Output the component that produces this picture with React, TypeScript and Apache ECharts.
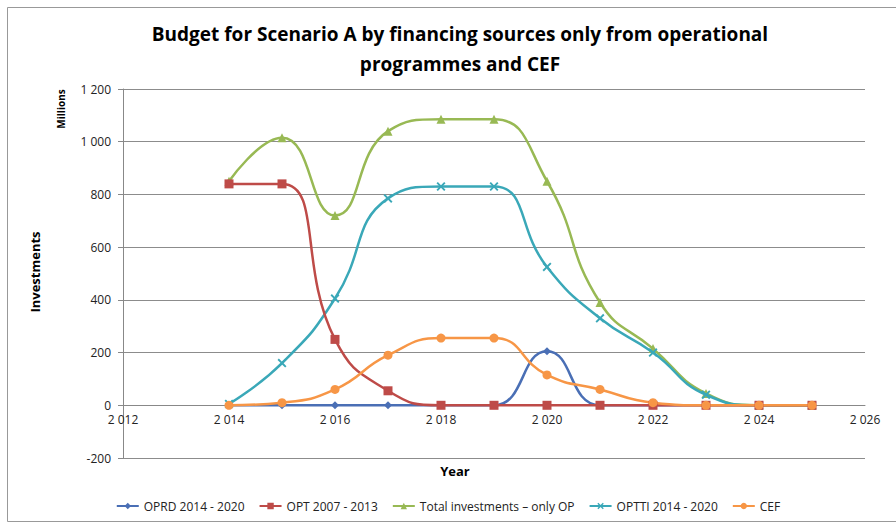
import React, { useEffect, useRef } from "react";
import * as echarts from "echarts";

const years = [2014, 2015, 2016, 2017, 2018, 2019, 2020, 2021, 2022, 2023, 2024, 2025];
const oprd = [0, 0, 0, 0, 0, 0, 205, 0, 0, 0, 0, 0];
const opt = [840, 840, 250, 55, 0, 0, 0, 0, 0, 0, 0, 0];
const total = [850, 1015, 720, 1040, 1085, 1085, 850, 390, 215, 45, 0, 0];
const optti = [5, 160, 405, 785, 830, 830, 525, 330, 200, 40, 0, 0];
const cef = [0, 10, 60, 190, 255, 255, 115, 60, 10, 0, 0, 0];

const seriesNames = ["OPRD 2014 - 2020", "OPT 2007 - 2013", "Total investments – only OP", "OPTTI 2014 - 2020", "CEF"];
const colors = ["#4a6fb5", "#be4b48", "#98b954", "#3aa8b8", "#f79646"];

const xMark = "path://M0,1.5L1.5,0L5,3.5L8.5,0L10,1.5L6.5,5L10,8.5L8.5,10L5,6.5L1.5,10L0,8.5L3.5,5Z";
const symbols = ["diamond", "rect", "triangle", xMark, "circle"];
const sizes = [8, 9, 9, 9, 9];

const fmt = (v: number) => {
  const s = Math.abs(v).toString();
  const withSpace = s.length > 3 ? s.slice(0, s.length - 3) + " " + s.slice(s.length - 3) : s;
  return (v < 0 ? "-" : "") + withSpace;
};

const FONT = "'Open Sans', sans-serif";
const Y_MIN = -200;
const Y_MAX = 1200;
const GRID_TOP = 89;
const GRID_BOTTOM = 71;
const zeroOffset = -((529 - GRID_TOP - GRID_BOTTOM) * (0 - Y_MIN)) / (Y_MAX - Y_MIN);

export default function App() {
  const ref = useRef<HTMLDivElement>(null);
  useEffect(() => {
    if (!ref.current) return;
    const chart = echarts.init(ref.current, undefined, { renderer: "svg" });
    const datas = [oprd, opt, total, optti, cef];
    chart.setOption({
      animation: false,
      backgroundColor: "#fff",
      textStyle: { fontFamily: FONT },
      title: {
        text: "Budget for Scenario A by financing sources only from operational\nprogrammes and CEF",
        left: 455,
        textAlign: "center",
        top: 14,
        textStyle: { fontSize: 19, fontWeight: "bold", color: "#000", lineHeight: 30, fontFamily: FONT },
      },
      legend: {
        bottom: 12,
        left: "center",
        itemWidth: 22,
        itemHeight: 8,
        itemGap: 14,
        textStyle: { fontSize: 12, color: "#222", fontFamily: FONT },
        data: seriesNames,
      },
      grid: { left: 123, right: 31, top: GRID_TOP, bottom: GRID_BOTTOM, outerBoundsMode: "none", containLabel: false },
      xAxis: {
        type: "value",
        min: 2012,
        max: 2026,
        interval: 2,
        position: "bottom",
        offset: zeroOffset,
        axisLine: { onZero: false, lineStyle: { color: "#888" } },
        axisTick: { show: false },
        splitLine: { show: false },
        axisLabel: { formatter: fmt, fontSize: 12, color: "#222", margin: 8 },
      },
      yAxis: {
        type: "value",
        min: Y_MIN,
        max: Y_MAX,
        interval: 200,
        axisLine: { show: true, lineStyle: { color: "#888" } },
        axisTick: { show: true, length: 5, inside: false, lineStyle: { color: "#888" } },
        splitLine: { show: true, lineStyle: { color: "#8c8c8c", width: 1 } },
        axisLabel: { formatter: fmt, fontSize: 12, color: "#222", margin: 12 },
      },
      graphic: [
        {
          type: "text",
          x: 61,
          y: 109,
          rotation: Math.PI / 2,
          style: { text: "Millions", fontSize: 10, fontWeight: "bold", fill: "#000", align: "center", verticalAlign: "middle", fontFamily: FONT },
        },
        {
          type: "text",
          x: 35,
          y: 272,
          rotation: Math.PI / 2,
          style: { text: "Investments", fontSize: 13, fontWeight: "bold", fill: "#000", align: "center", verticalAlign: "middle", fontFamily: FONT },
        },
        {
          type: "text",
          x: 455,
          y: 471,
          style: { text: "Year", fontSize: 13, fontWeight: "bold", fill: "#000", align: "center", verticalAlign: "middle", fontFamily: FONT },
        },
        {
          type: "rect",
          shape: { x: 7.5, y: 7.5, width: 900, height: 514 },
          style: { fill: "none", stroke: "#999", lineWidth: 1 },
          silent: true,
        },
      ],
      series: seriesNames.map((name, i) => ({
        name,
        type: "line",
        smooth: 0.5,
        symbol: symbols[i],
        symbolSize: sizes[i],
        showAllSymbol: true,
        color: colors[i],
        lineStyle: { width: 2.5, color: colors[i] },
        itemStyle: { color: colors[i] },
        data: years.map((y, k) => [y, datas[i][k]]),
        z: i === 1 ? 6 : 2 + i,
      })),
    });
    return () => chart.dispose();
  }, []);
  return <div ref={ref} style={{ width: 896, height: 529, position: "absolute", left: 0, top: 0 }} />;
}
